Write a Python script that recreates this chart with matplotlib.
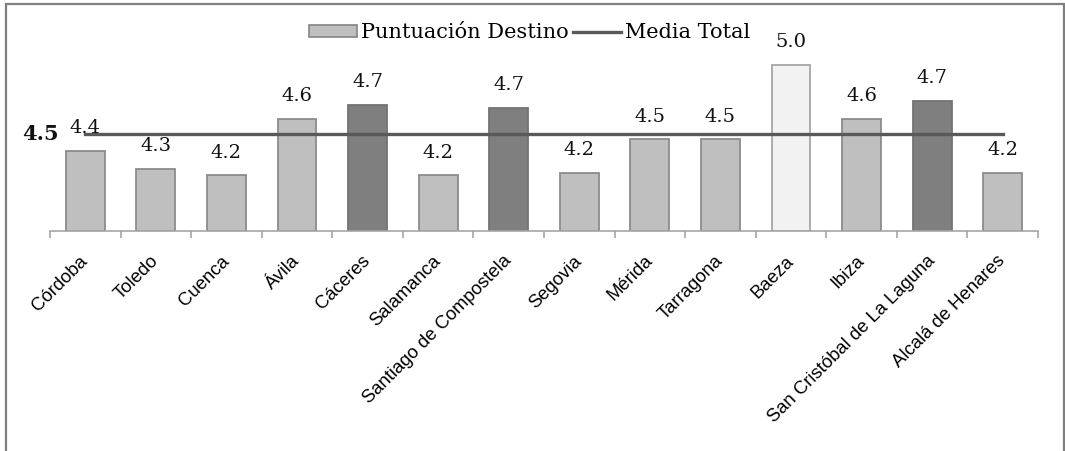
import matplotlib.pyplot as plt
from matplotlib.patches import Rectangle
from matplotlib.transforms import ScaledTranslation
import numpy as np

ciudades = ['Córdoba', 'Toledo', 'Cuenca', 'Ávila', 'Cáceres', 'Salamanca',
            'Santiago de Compostela', 'Segovia', 'Mérida', 'Tarragona', 'Baeza',
            'Ibiza', 'San Cristóbal de La Laguna', 'Alcalá de Henares']
puntuacion = [4.38, 4.25, 4.20, 4.61, 4.71, 4.20, 4.69, 4.22, 4.46, 4.46, 5.00,
              4.61, 4.74, 4.22]
etiquetas = ['4.4', '4.3', '4.2', '4.6', '4.7', '4.2', '4.7', '4.2', '4.5', '4.5',
             '5.0', '4.6', '4.7', '4.2']
media = 4.5
# tono de cada barra: normal, patrimonio (oscuro), maximo (claro)
tono = ['n', 'n', 'n', 'n', 'o', 'n', 'o', 'n', 'n', 'n', 'c', 'n', 'o', 'n']

relleno = {'n': '#bfbfbf', 'o': '#7f7f7f', 'c': '#f2f2f2'}
borde = {'n': '#8c8c8c', 'o': '#737373', 'c': '#a6a6a6'}

fig = plt.figure(figsize=(10.65, 4.51), dpi=100)
ax = fig.add_axes([50 / 1065, 1 - 231 / 451, 988 / 1065, 222 / 451])

x = np.arange(len(ciudades))
barras = ax.bar(x, [p - 3.8 for p in puntuacion], bottom=3.8, width=0.55,
                color=[relleno[t] for t in tono],
                edgecolor=[borde[t] for t in tono],
                linewidth=1.3, label='Puntuación Destino', zorder=2)
linea, = ax.plot([x[0], x[-1]], [media, media], color='#595959', lw=2.4,
                 label='Media Total', zorder=3)

for xi, p, et in zip(x, puntuacion, etiquetas):
    ax.annotate(et, (xi, p), xytext=(0, 12.5), textcoords='offset points',
                ha='center', va='baseline', fontsize=14, family='DejaVu Serif',
                color='#111111')

ax.text(-0.37, media, '4.5', ha='right', va='center', fontsize=15,
        fontweight='bold', family='DejaVu Serif', color='#111111')

ax.set_xlim(-0.5, len(ciudades) - 0.5)
ax.set_ylim(3.8, 5.4)
ax.set_yticks([])
for s in ['top', 'left', 'right']:
    ax.spines[s].set_visible(False)
ax.spines['bottom'].set_color('#a6a6a6')
ax.spines['bottom'].set_linewidth(1.2)

ax.set_xticks(x)
ax.set_xticklabels(ciudades, rotation=45, ha='right', rotation_mode='anchor',
                   fontsize=13.3, family='Liberation Sans')
ax.tick_params(axis='x', which='major', length=0, pad=14)
desplaza = ScaledTranslation(-6 / 100, -2 / 100, fig.dpi_scale_trans)
for lab in ax.get_xticklabels():
    lab.set_transform(lab.get_transform() + desplaza)
ax.set_xticks(np.arange(-0.5, len(ciudades)), minor=True)
ax.tick_params(axis='x', which='minor', length=5, color='#a6a6a6', width=1.2)

ax.legend([barras, linea], ['Puntuación Destino', 'Media Total'],
          loc='center', bbox_to_anchor=(530 / 1065, 1 - 33 / 451),
          bbox_transform=fig.transFigure, ncol=2, frameon=False,
          prop={'family': 'DejaVu Serif', 'size': 15}, handlelength=2.3,
          handleheight=0.55, handletextpad=0.2, columnspacing=0.2)

fig.patches.append(Rectangle((5.5 / 1065, -0.1), 1058 / 1065, 1.1 - 3.5 / 451,
                             transform=fig.transFigure, fill=False,
                             edgecolor='#7f7f7f', lw=1.6, clip_on=False))

fig.savefig('out.png', dpi=100)
